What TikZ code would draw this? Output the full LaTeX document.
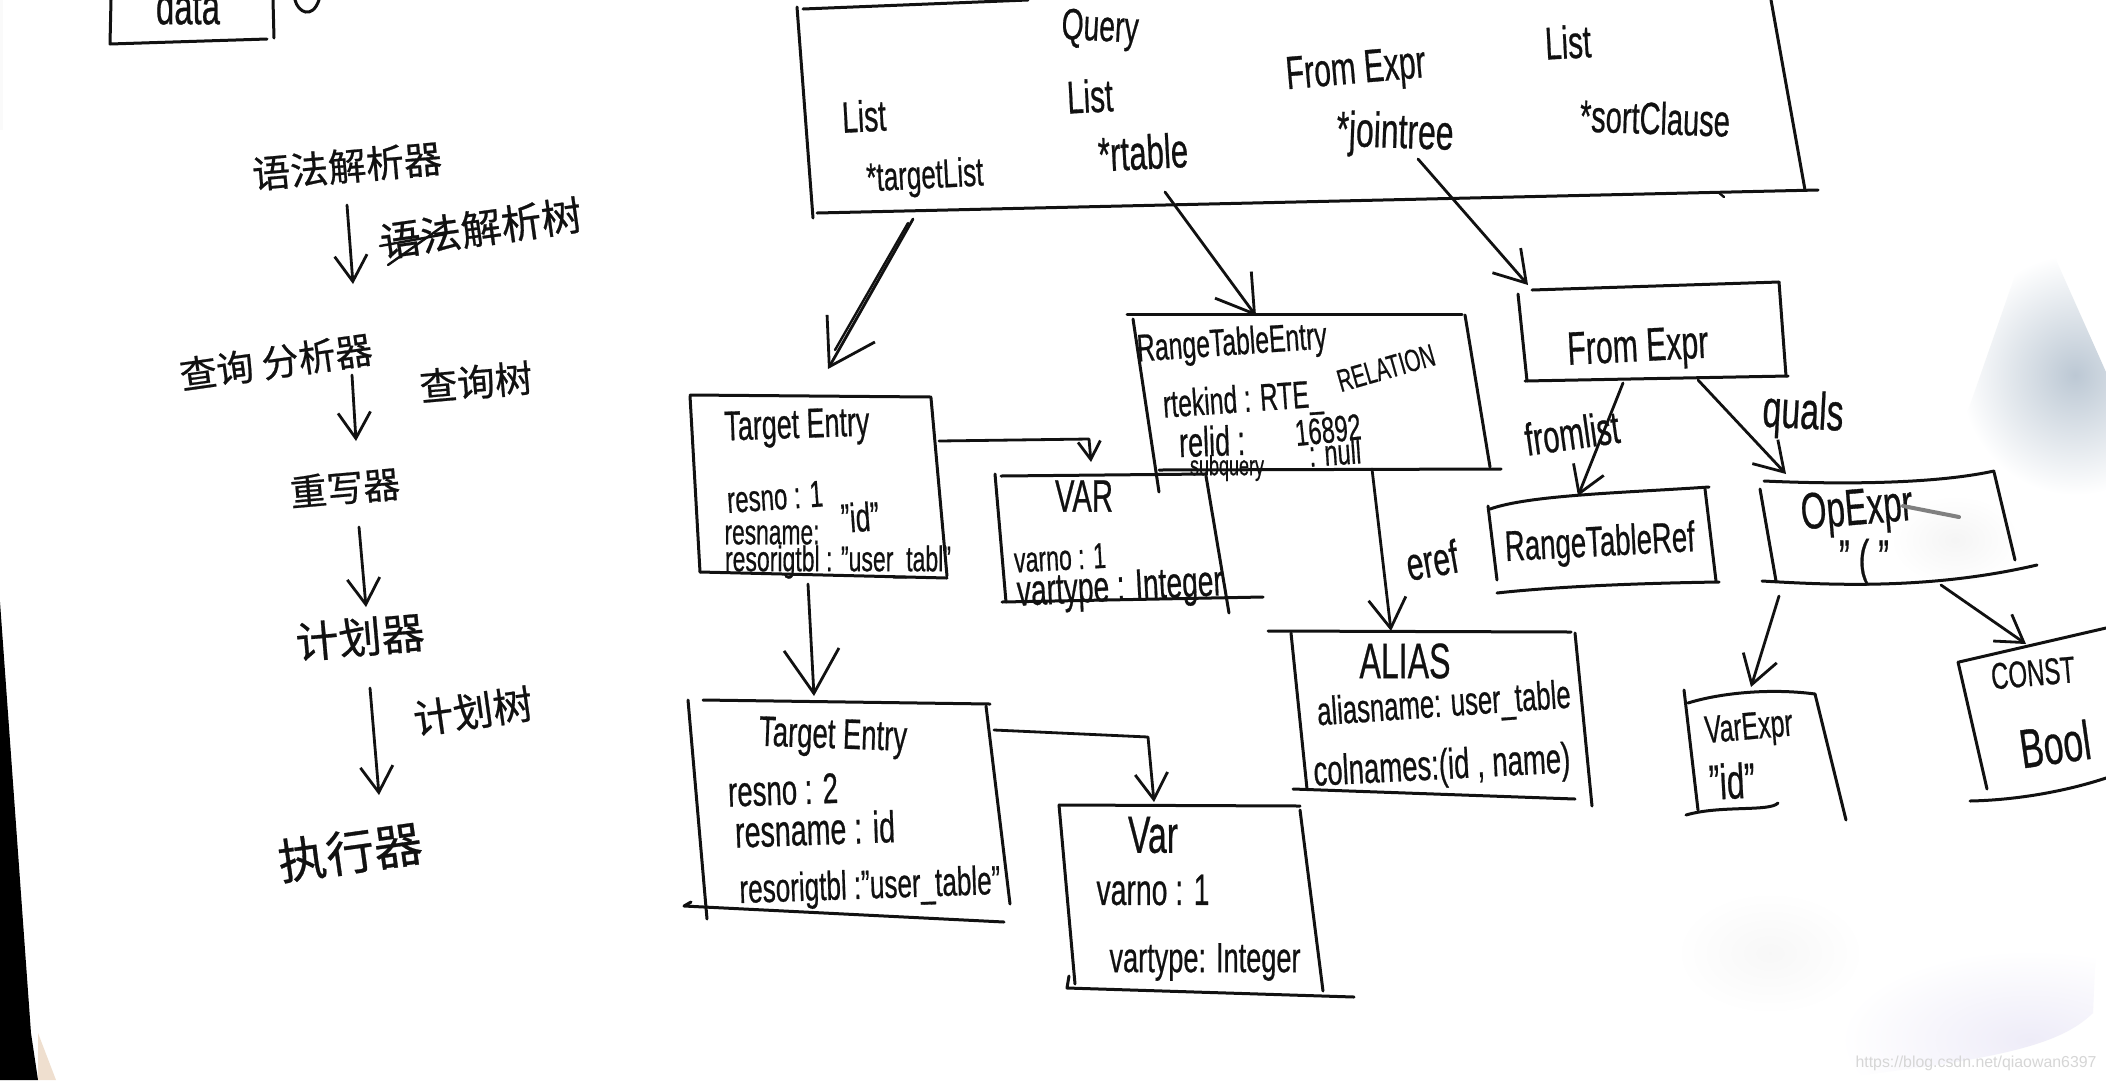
\documentclass[tikz,border=0pt]{standalone}
\usepackage{graphicx}
\usepackage{fontspec}
\setmainfont{Liberation Sans}[FakeBold=0.7]
\newfontfamily\plainwm{Liberation Sans}
\newfontfamily\cjkhand{Noto Sans CJK SC}[FakeBold=0.6]
\usetikzlibrary{arrows.meta}
\newcommand\hw[2]{\resizebox{#1pt}{!}{\scalebox{1}[1.55]{#2}}}
\newcommand\hc[2]{\resizebox{#1pt}{!}{\cjkhand #2}}
\definecolor{ink}{HTML}{111111}
\definecolor{shadowblue}{HTML}{BCC8D4}
\definecolor{shadowlilac}{HTML}{EEECF8}
\tikzset{
  pen/.style={draw=ink,line width=3pt,line cap=round,line join=round},
  thinpen/.style={draw=ink,line width=2.4pt,line cap=round,line join=round},
  conn/.style={draw=ink,line width=2.8pt,line cap=round,line join=round,
    -{Straight Barb[length=#1pt,width=#1*1.25pt,line width=2.8pt]}},
  conn/.default=26,
  hand/.style={inner sep=0pt,outer sep=0pt,text=ink,anchor=center},
}
\begin{document}
\begin{tikzpicture}[x=1pt,y=-1pt]
\useasboundingbox (0,0) rectangle (2106,1080);
\clip (0,0) rectangle (2106,1080);
\fill[white] (0,0) rectangle (2106,1080);

% paper edges and shadows
\fill[black] (0,602) -- (31,1033) -- (38,1080) -- (0,1080) -- cycle;
\fill[black!2!white] (0,0) rectangle (3,130);
\fill[brown!25!white] (38,1033) -- (56,1080) -- (38,1080) -- cycle;
\begin{scope}
  \clip (1930,520) -- (2036,215) -- (2106,372) -- (2106,540) -- cycle;
  \shade[inner color=shadowblue,outer color=white,draw=none] (2075,375) ellipse (115 and 120);
\end{scope}
\shade[inner color=gray!8!white,outer color=white,draw=none] (1955,540) ellipse (65 and 45);
\begin{scope}
  \clip (1700,900) -- (2095,900) -- (2095,967) -- (2093,1013) .. controls (2060,1045) and (2000,1060) .. (1817,1080) -- cycle;
  \shade[inner color=shadowlilac,outer color=white,draw=none] (2030,1040) ellipse (190 and 90);
\end{scope}
\shade[inner color=gray!6!white,outer color=white,draw=none] (1770,953) ellipse (95 and 62);
\node[hand,text=black!16,font=\plainwm] (wm) at (1976,1063) {\resizebox{241pt}{!}{https://blog.csdn.net/qiaowan6397}};

% ---------- partly visible box, top left
\draw[pen] (111,0) -- (110,44) -- (267,39);
\draw[pen] (273,0) -- (274,38);
\node[hand] (dataT) at (188,6) {\hw{64}{data}};
\draw[pen] (295,0) .. controls (298,12) and (312,20) .. (319,0);

% ---------- left chain
\node[hand,rotate=5] (parser) at (347,166) {\hc{190}{语法解析器}};
\node[hand,rotate=8] (parsetree) at (481,228) {\hc{203}{语法解析树}};
\draw[thinpen] (380,246) -- (446,234);
\draw[thinpen] (388,265) -- (446,224);
\node[hand,rotate=8] (analyzer) at (276,362) {\hc{194}{查询 分析器}};
\node[hand,rotate=5] (querytree) at (476,382) {\hc{113}{查询树}};
\node[hand,rotate=5] (rewriter) at (345,488) {\hc{110}{重写器}};
\node[hand,rotate=5] (planner) at (360,637) {\hc{129}{计划器}};
\node[hand,rotate=8] (plantree) at (473,711) {\hc{120}{计划树}};
\node[hand,rotate=8] (executor) at (350,852) {\hc{145}{执行器}};
\coordinate (c1a) at (347,205); \coordinate (c1b) at (353,284);
\coordinate (c2a) at (352,375); \coordinate (c2b) at (356,441);
\coordinate (c3a) at (359,527); \coordinate (c3b) at (366,607);
\coordinate (c4a) at (370,688); \coordinate (c4b) at (379,795);
\draw[conn=26] (c1a) -- (c1b);
\draw[conn=26] (c2a) -- (c2b);
\draw[conn=26] (c3a) -- (c3b);
\draw[conn=26] (c4a) -- (c4b);

% ---------- Query box
\draw[pen] (803,9) -- (1028,0);
\draw[pen] (797,7) -- (813,218);
\draw[pen] (817,213) -- (1818,190);
\draw[pen] (1771,0) -- (1805,190);
\draw[thinpen] (1718,192) -- (1724,197);
\node[hand,rotate=-3] (q0) at (1100,30) {\hw{77}{Query}};
\node[hand,rotate=3] (q1) at (1568,42) {\hw{46}{List}};
\node[hand,rotate=5] (q2) at (1356,72) {\hw{140}{From Expr}};
\node[hand,rotate=3] (q3) at (1090,96) {\hw{46}{List}};
\node[hand,rotate=3] (q4) at (864,116) {\hw{44}{List}};
\node[hand,rotate=3] (q5) at (925,178) {\hw{117}{*targetList}};
\node[hand,rotate=3] (q6) at (1143,152) {\hw{90}{*rtable}};
\node[hand,rotate=-2] (q7) at (1395,135) {\hw{117}{*jointree}};
\node[hand,rotate=-2] (q8) at (1655,118) {\hw{150}{*sortClause}};

% ---------- TargetEntry 1
\draw[pen] (690,395) -- (931,397);
\draw[pen] (690,396) -- (700,572);
\draw[pen] (931,398) -- (947,576);
\draw[pen] (700,572) -- (947,578);
\node[hand,rotate=2] (t1) at (797,428) {\hw{145}{Target Entry}};
\node[hand,rotate=4] (t2) at (775,497) {\hw{96}{resno : 1}};
\node[hand,rotate=4] (t3) at (860,517) {\hw{38}{"id"}};
\node[hand] (t4) at (772,535) {\hw{95}{resname:}};
\node[hand] (t5) at (838,562) {\hw{226}{resorigtbl : "user\_tabl"}};

% ---------- VAR
\draw[pen] (1001,476) -- (1206,474);
\draw[pen] (995,474) -- (1006,602);
\draw[pen] (1206,476) -- (1229,613);
\draw[pen] (1002,602) -- (1263,597);
\node[hand] (v1) at (1084,496) {\hw{58}{VAR}};
\node[hand,rotate=3] (v2) at (1060,558) {\hw{92}{varno : 1}};
\node[hand,rotate=3] (v3) at (1120,590) {\hw{206}{vartype : Integer}};

% ---------- TargetEntry 2
\draw[pen] (703,700) -- (990,704);
\draw[pen] (688,700) -- (707,919);
\draw[pen] (986,706) -- (1010,904);
\draw[pen] (691,902) -- (684,906) -- (1004,922);
\node[hand,rotate=-2] (e1) at (833,738) {\hw{148}{Target Entry}};
\node[hand,rotate=2] (e2) at (783,790) {\hw{110}{resno : 2}};
\node[hand,rotate=2] (e3) at (815,829) {\hw{160}{resname : id}};
\node[hand,rotate=2] (e4) at (870,888) {\hw{261}{resorigtbl :"user\_table"}};

% ---------- Var
\draw[pen] (1059,805) -- (1300,806);
\draw[pen] (1059,805) -- (1075,984);
\draw[pen] (1300,810) -- (1323,991);
\draw[pen] (1069,976) -- (1067,988) -- (1354,997);
\node[hand] (w1) at (1153,835) {\hw{50}{Var}};
\node[hand] (w2) at (1153,890) {\hw{113}{varno : 1}};
\node[hand] (w3) at (1205,962) {\hw{191}{vartype: Integer}};

% ---------- RangeTableEntry
\draw[pen] (1127,314) -- (1462,314);
\draw[pen] (1133,319) -- (1159,492);
\draw[pen] (1465,315) -- (1490,467);
\draw[pen] (1159,470) -- (1501,469);
\node[hand,rotate=4] (r1) at (1232,345) {\hw{190}{RangeTableEntry}};
\node[hand,rotate=4] (r2) at (1243,402) {\hw{160}{rtekind : RTE\_}};
\node[hand,rotate=16] (r3) at (1386,368) {\hw{100}{RELATION}};
\node[hand,rotate=2] (r4a) at (1212,441) {\hw{66}{relid :}};
\node[hand,rotate=6] (r4) at (1328,430) {\hw{66}{16892}};
\node[hand] (r5) at (1227,468) {\hw{74}{subquery}};
\node[hand,rotate=4] (r6) at (1335,452) {\hw{52}{: null}};

% ---------- FromExpr
\draw[pen] (1532,290) -- (1779,282);
\draw[pen] (1518,294) -- (1527,381);
\draw[pen] (1779,282) -- (1786,376);
\draw[pen] (1525,381) -- (1788,376);
\node[hand,rotate=3] (f1) at (1638,350) {\hw{141}{From Expr}};
\node[hand,rotate=8] (f2) at (1572,433) {\hw{95}{fromlist}};
\node[hand,rotate=-3] (f3) at (1803,415) {\hw{81}{quals}};

% ---------- RangeTableRef
\draw[pen] (1490,509) .. controls (1530,495) and (1620,493) .. (1709,487);
\draw[pen] (1488,506) -- (1497,580);
\draw[pen] (1705,489) -- (1716,581);
\draw[pen] (1497,593) .. controls (1560,586) and (1650,583) .. (1719,582);
\node[hand,rotate=3] (rr) at (1600,545) {\hw{190}{RangeTableRef}};

% ---------- OpExpr
\draw[pen] (1764,481) .. controls (1830,484) and (1930,485) .. (1994,471);
\draw[pen] (1760,489) -- (1776,581);
\draw[pen] (1994,472) -- (2015,560);
\draw[pen] (1762,581) .. controls (1830,585) and (1930,590) .. (2037,565);
\node[hand,rotate=5] (o1) at (1857,512) {\hw{112}{OpExpr}};
\draw[draw=gray,line width=4pt,line cap=round] (1903,506) -- (1959,517);
\node[hand] (o2) at (1864,562) {\hw{50}{" ( "}};

% ---------- ALIAS
\draw[pen] (1268,631) -- (1571,632);
\draw[pen] (1291,633) -- (1307,789);
\draw[pen] (1575,633) -- (1592,806);
\draw[pen] (1293,789) -- (1575,799);
\node[hand] (a1) at (1405,661) {\hw{91}{ALIAS}};
\node[hand,rotate=4] (a2) at (1444,706) {\hw{254}{aliasname: user\_table}};
\node[hand,rotate=3] (a3) at (1442,768) {\hw{257}{colnames:(id , name)}};
\node[hand,rotate=10] (a4) at (1432,560) {\hw{52}{eref}};

% ---------- VarExpr
\draw[pen] (1684,690) -- (1698,810);
\draw[pen] (1688,703) .. controls (1720,693) and (1770,688) .. (1815,694);
\draw[pen] (1815,694) -- (1846,820);
\draw[pen] (1686,815) .. controls (1720,805) and (1770,812) .. (1778,803);
\node[hand,rotate=5] (x1) at (1749,730) {\hw{88}{VarExpr}};
\node[hand,rotate=3] (x2) at (1732,781) {\hw{46}{"id"}};

% ---------- CONST
\draw[pen] (1959,662) -- (2106,628);
\draw[pen] (1958,662) -- (1987,789);
\draw[pen] (1970,801) .. controls (2020,800) and (2070,790) .. (2106,778);
\node[hand,rotate=5] (k1) at (2033,673) {\hw{84}{CONST}};
\node[hand,rotate=8] (k2) at (2055,744) {\hw{71}{Bool}};

% ---------- connectors
\coordinate (qa) at (913,219);  \coordinate (ta) at (828,369);
\coordinate (qb) at (1165,192); \coordinate (tb) at (1256,316);
\coordinate (qc) at (1418,159); \coordinate (tc) at (1528,285);
\coordinate (t1o) at (939,441); \coordinate (t1e) at (1089,439); \coordinate (vi) at (1091,462);
\coordinate (t1d) at (808,584); \coordinate (e1i) at (814,696);
\coordinate (e1o) at (994,730); \coordinate (e1e) at (1148,737); \coordinate (wi) at (1154,802);
\coordinate (ro) at (1372,469); \coordinate (ai) at (1391,631);
\coordinate (fa) at (1623,383); \coordinate (rri) at (1578,496);
\coordinate (fb) at (1698,380); \coordinate (oi) at (1786,474);
\coordinate (oa) at (1779,596); \coordinate (xi) at (1751,687);
\coordinate (ob) at (1941,585); \coordinate (ki) at (2026,644);
\draw[conn=44] (qa) -- (ta);
\draw[thinpen] (908,223) -- (835,350);
\draw[conn=36] (qb) -- (tb);
\draw[conn=30] (qc) -- (tc);
\draw[conn=18] (t1o) -- (t1e) -- (vi);
\draw[conn=44] (t1d) -- (e1i);
\draw[conn=26] (e1o) -- (e1e) -- (wi);
\draw[conn=30] (ro) -- (ai);
\draw[conn=26] (fa) -- (rri);
\draw[conn=28] (fb) -- (oi);
\draw[conn=28] (oa) -- (xi);
\draw[conn=26] (ob) -- (ki);
\end{tikzpicture}
\end{document}
